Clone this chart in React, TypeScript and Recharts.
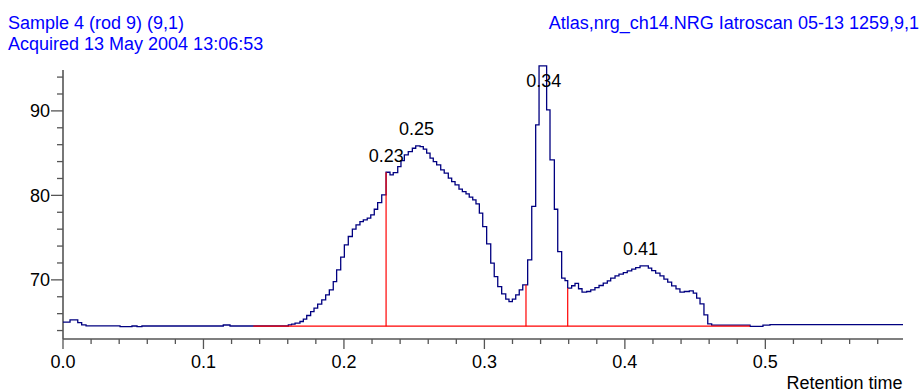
import React from 'react';
import { LineChart, Line, XAxis, YAxis, ReferenceLine, ReferenceDot } from 'recharts';

// Step-change times (retention time) and detector signal
const times = [
  0, 0.005, 0.0105, 0.0133, 0.0164, 0.0406, 0.0491, 0.0527, 0.0562, 0.1141, 0.1189,
  0.1604, 0.1627, 0.1652, 0.1687, 0.1711, 0.1735, 0.1763, 0.1787, 0.1813, 0.1842, 0.187, 0.1896, 0.1924,
  0.1948, 0.1977, 0.2003, 0.2031, 0.206, 0.2086, 0.2114, 0.2138, 0.2166, 0.2191, 0.2216, 0.224, 0.2269,
  0.23, 0.2328, 0.2351, 0.2383, 0.2406, 0.243, 0.2458, 0.2487, 0.2511, 0.2542, 0.2565, 0.2589, 0.2613,
  0.2636, 0.266, 0.2689, 0.2714, 0.2743, 0.2767, 0.2791, 0.2819, 0.2843, 0.2869, 0.2892, 0.2917, 0.294,
  0.2964, 0.2988, 0.3016, 0.3045, 0.307, 0.3095, 0.3123, 0.3152, 0.3175, 0.3199, 0.3223, 0.3248, 0.3273,
  0.3308, 0.3337, 0.3365, 0.3389, 0.3443, 0.3467, 0.3498, 0.3522, 0.355, 0.3574,
  0.3593, 0.3621, 0.3645, 0.367, 0.3695, 0.3728, 0.3757, 0.3787, 0.3816, 0.3846, 0.3875, 0.3899, 0.393,
  0.3958, 0.3989, 0.4017, 0.4049, 0.4077, 0.4108,
  0.4167, 0.4191, 0.4219, 0.425, 0.4278, 0.4305, 0.4333, 0.4364, 0.4392, 0.4423, 0.4459, 0.4487, 0.4511,
  0.4535, 0.4563, 0.459, 0.4618,
  0.4891, 0.4983, 0.5033, 0.598,
];

const signal = [
  65.0, 65.27, 64.95, 64.67, 64.56, 64.47, 64.54, 64.47, 64.54, 64.66, 64.54,
  64.68, 64.76, 64.87, 65.07, 65.35, 65.78, 66.25, 66.65, 67.12, 67.63, 68.22, 68.82, 69.8,
  71.18, 72.69, 74.14, 75.13, 76.0, 76.51, 76.9, 77.1, 77.3, 77.69, 78.36, 79.15, 80.06,
  82.74, 82.43, 82.7, 83.4, 84.12, 84.8, 85.19, 85.58, 85.86, 85.78, 85.47, 85.0, 84.4,
  84.0, 83.6, 83.02, 82.63, 82.04, 81.63, 81.24, 80.73, 80.45, 80.18, 79.79, 79.47, 79.0,
  77.89, 76.31, 74.26, 71.98, 70.39, 69.21, 68.34, 67.71, 67.43, 67.71, 68.22, 68.82, 69.41,
  72.37, 78.7, 88.34, 95.33, 90.12, 84.2, 78.36, 73.35, 70.2, 69.92,
  69.01, 69.3, 69.58, 68.95, 68.55, 68.62, 68.82, 69.09, 69.33, 69.61, 69.88, 70.2, 70.47,
  70.67, 70.86, 71.07, 71.26, 71.46, 71.66,
  71.38, 71.1, 70.79, 70.47, 70.08, 69.73, 69.29, 68.93, 68.54, 68.62, 68.7, 68.42, 67.83,
  67.16, 65.86, 64.79, 64.64,
  64.5, 64.64, 64.71, 64.71,
];

const xTicks = [
  0, 0.02, 0.04, 0.06, 0.08, 0.1, 0.12, 0.14, 0.16, 0.18, 0.2, 0.22, 0.24, 0.26, 0.28, 0.3,
  0.32, 0.34, 0.36, 0.38, 0.4, 0.42, 0.44, 0.46, 0.48, 0.5, 0.52, 0.54, 0.56, 0.58,
];
const yTicks = [64, 66, 68, 70, 72, 74, 76, 78, 80, 82, 84, 86, 88, 90, 92, 94];

const peakLabels = ['0.23', '0.25', '0.34', '0.41'];
const peakLabelTimes = [0.2302, 0.2516, 0.3422, 0.4112];
const peakLabelLevels = [84.73, 87.87, 93.53, 73.69];

const boundaryTimes = [0.23, 0.3296, 0.3593];
const boundaryTops = [82.74, 69.41, 69.01];
const baselineStart = 0.1355;
const baselineEnd = 0.4891;
const baselineLevel = 64.52;

const X_MAX = 0.598;
const Y_MIN = 63;
const Y_MAX = 95.55;
const Y_AXIS_TOP = 94.85;

const FONT = '"Liberation Sans", Arial, Helvetica, sans-serif';
const AXIS = '#555555';
const TEXT_BLUE = '#0000ff';

const XTick = (props: any) => {
  const { x, y, payload } = props;
  const v = payload.value;
  const major = Math.abs(v * 10 - Math.round(v * 10)) < 1e-6;
  return (
    <g>
      <line x1={x} x2={x} y1={y} y2={y + (major ? 10 : 5)} stroke={AXIS} strokeWidth={1.3} />
      {major && (
        <text x={x} y={y + 29.3} textAnchor="middle" fontSize={18} fill="#000" fontFamily={FONT}>
          {v.toFixed(1)}
        </text>
      )}
    </g>
  );
};

const YTick = (props: any) => {
  const { x, y, payload } = props;
  const v = payload.value;
  const major = v % 10 === 0;
  return (
    <g>
      <line x1={x - (major ? 12 : 6)} x2={x} y1={y} y2={y} stroke={AXIS} strokeWidth={1.3} />
      {major && (
        <text x={x - 13} y={y + 6.4} textAnchor="end" fontSize={18} fill="#000" fontFamily={FONT}>
          {v}
        </text>
      )}
    </g>
  );
};

export default function App() {
  const data = times.map((t, i) => ({ t, v: signal[i] }));
  return (
    <div style={{ position: 'absolute', left: 0, top: 0, width: 922, height: 392, fontFamily: FONT, background: '#fff' }}>
      <LineChart
        width={922}
        height={392}
        data={data}
        margin={{ top: 64, right: 19, bottom: 0, left: 0 }}
        style={{ fontFamily: FONT }}
      >
        <XAxis
          type="number"
          dataKey="t"
          domain={[0, X_MAX]}
          ticks={xTicks}
          interval={0}
          tickSize={0}
          tickMargin={0}
          height={53}
          tick={<XTick />}
          tickLine={false}
          axisLine={{ stroke: AXIS, strokeWidth: 1.6 }}
        />
        <YAxis
          type="number"
          domain={[Y_MIN, Y_MAX]}
          ticks={yTicks}
          interval={0}
          tickSize={0}
          tickMargin={0}
          width={63}
          tick={<YTick />}
          tickLine={false}
          axisLine={false}
        />
        <ReferenceLine
          segment={[{ x: 0, y: Y_MIN }, { x: 0, y: Y_AXIS_TOP }]}
          stroke={AXIS}
          strokeWidth={1.6}
          ifOverflow="visible"
        />
        <Line
          type="stepAfter"
          dataKey="v"
          stroke="#000080"
          strokeWidth={1.3}
          dot={false}
          activeDot={false}
          isAnimationActive={false}
        />
        <ReferenceLine
          segment={[{ x: baselineStart, y: baselineLevel }, { x: baselineEnd, y: baselineLevel }]}
          stroke="#ff0000"
          strokeWidth={1.2}
          ifOverflow="visible"
        />
        {boundaryTimes.map((bt, i) => (
          <ReferenceLine
            key={'b' + i}
            segment={[{ x: bt, y: baselineLevel }, { x: bt, y: boundaryTops[i] }]}
            stroke="#ff0000"
            strokeWidth={1.2}
            ifOverflow="visible"
          />
        ))}
        {peakLabels.map((lab, i) => (
          <ReferenceDot
            key={'p' + i}
            x={peakLabelTimes[i]}
            y={peakLabelLevels[i]}
            r={0}
            fill="none"
            stroke="none"
            ifOverflow="visible"
            label={{ value: lab, position: 'center', fontSize: 18, fill: '#000', fontFamily: FONT }}
          />
        ))}
      </LineChart>
      <div style={{ position: 'absolute', left: 8, top: 14, fontSize: 18, lineHeight: '18px', color: TEXT_BLUE, whiteSpace: 'nowrap' }}>
        Sample 4 (rod 9) (9,1)
      </div>
      <div style={{ position: 'absolute', left: 8, top: 35, fontSize: 18, lineHeight: '18px', color: TEXT_BLUE, whiteSpace: 'nowrap' }}>
        Acquired 13 May 2004 13:06:53
      </div>
      <div style={{ position: 'absolute', right: 3, top: 14, fontSize: 18, lineHeight: '18px', color: TEXT_BLUE, whiteSpace: 'nowrap' }}>
        Atlas,nrg_ch14.NRG Iatroscan 05-13 1259,9,1
      </div>
      <div style={{ position: 'absolute', right: 19.5, top: 375, fontSize: 18, lineHeight: '16px', color: '#000', whiteSpace: 'nowrap' }}>
        Retention time
      </div>
    </div>
  );
}
